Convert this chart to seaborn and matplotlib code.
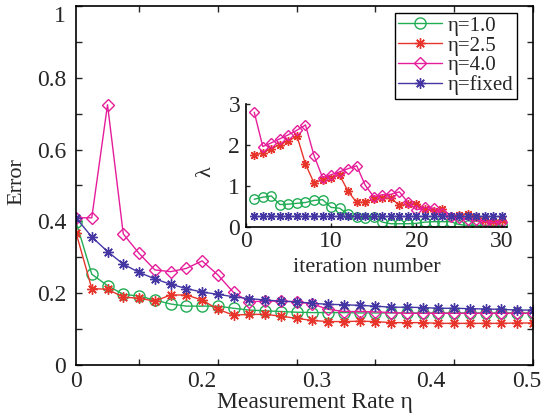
import matplotlib
matplotlib.use("Agg")
import matplotlib.pyplot as plt
import seaborn as sns

# ---- main panel: reconstruction error vs. measurement rate (30 samples) ----
sample_idx = list(range(1, 31))

err_eta_1_0 = [0.399, 0.253, 0.221, 0.197, 0.192, 0.181, 0.170, 0.164, 0.164, 0.164,
               0.158, 0.153, 0.151, 0.149, 0.147, 0.146, 0.146, 0.146, 0.145, 0.145,
               0.145, 0.145, 0.145, 0.145, 0.145, 0.145, 0.145, 0.145, 0.145, 0.145]
err_eta_2_5 = [0.369, 0.213, 0.211, 0.189, 0.186, 0.178, 0.195, 0.195, 0.181, 0.155,
               0.139, 0.141, 0.141, 0.136, 0.130, 0.124, 0.121, 0.121, 0.122, 0.121,
               0.118, 0.118, 0.118, 0.116, 0.116, 0.116, 0.116, 0.116, 0.117, 0.117]
err_eta_4_0 = [0.410, 0.410, 0.725, 0.365, 0.311, 0.265, 0.260, 0.269, 0.290, 0.251,
               0.202, 0.176, 0.178, 0.178, 0.176, 0.170, 0.155, 0.149, 0.149, 0.148,
               0.146, 0.144, 0.144, 0.144, 0.144, 0.144, 0.144, 0.144, 0.144, 0.144]
err_eta_fixed = [0.410, 0.357, 0.316, 0.281, 0.258, 0.240, 0.225, 0.213, 0.203, 0.197,
                 0.190, 0.185, 0.181, 0.178, 0.176, 0.172, 0.169, 0.168, 0.166, 0.164,
                 0.161, 0.161, 0.160, 0.158, 0.158, 0.157, 0.156, 0.155, 0.153, 0.153]

rate_tick_pos = [1, 9.0, 16.3, 23.5, 29.6]
rate_tick_labels = ["0", "0.2", "0.3", "0.4", "0.5"]

# ---- inset: lambda per iteration ----
iteration = list(range(1, 31))

lam_eta_1_0 = [0.68, 0.73, 0.76, 0.55, 0.56, 0.58, 0.60, 0.65, 0.67, 0.48,
               0.46, 0.31, 0.24, 0.21, 0.24, 0.12, 0.08, 0.08, 0.08, 0.09,
               0.12, 0.13, 0.13, 0.13, 0.06, 0.04, 0.04, 0.04, 0.04, 0.04]
lam_eta_2_5 = [1.76, 1.82, 1.92, 2.02, 2.11, 2.23, 1.54, 1.08, 1.16, 1.21,
               1.27, 0.87, 0.60, 0.61, 0.68, 0.70, 0.71, 0.53, 0.56, 0.57,
               0.43, 0.40, 0.44, 0.28, 0.30, 0.33, 0.25, 0.18, 0.15, 0.18]
lam_eta_4_0 = [2.81, 1.97, 2.06, 2.16, 2.26, 2.37, 2.50, 1.75, 1.21, 1.28,
               1.35, 1.43, 1.50, 1.02, 0.74, 0.79, 0.80, 0.86, 0.60, 0.42,
               0.48, 0.46, 0.35, 0.24, 0.22, 0.18, 0.16, 0.13, 0.10, 0.13]
lam_eta_fixed = [0.28, 0.28, 0.28, 0.28, 0.28, 0.28, 0.28, 0.28, 0.28, 0.28,
                 0.28, 0.28, 0.28, 0.28, 0.28, 0.28, 0.28, 0.28, 0.28, 0.28,
                 0.28, 0.28, 0.28, 0.28, 0.28, 0.28, 0.28, 0.28, 0.28, 0.28]

series_labels = ["η=1.0", "η=2.5", "η=4.0", "η=fixed"]
series_colors = ["#22ad55", "#e8352c", "#e61d9b", "#4537a3"]
asterisk = (8, 2, 0)
series_markers = ["o", asterisk, "D", asterisk]

sns.set_style("white")
plt.rcParams["font.family"] = ["Liberation Serif", "DejaVu Serif"]

fig = plt.figure(figsize=(5.46, 4.15), dpi=100)
ax = fig.add_axes([76 / 546, 1 - 365 / 415, (533 - 76) / 546, (365 - 6) / 415])

main_sizes = [8, 7.5, 5.8, 7.5]
main_series = [err_eta_1_0, err_eta_2_5, err_eta_4_0, err_eta_fixed]
for vals, lab, col, mk, ms in zip(main_series, series_labels, series_colors,
                                  series_markers, main_sizes):
    sns.lineplot(x=sample_idx, y=vals, ax=ax, color=col, marker=mk, markersize=ms,
                 markerfacecolor="none", markeredgecolor=col, markeredgewidth=1.0,
                 linewidth=1.0, label=lab, legend=False)

ax.set_xlim(1, 30)
ax.set_ylim(0, 1)
ax.set_xticks(rate_tick_pos)
ax.set_xticklabels(rate_tick_labels)
ax.set_xticks([5, 10, 15, 20, 25, 30], minor=True)
ax.set_yticks([0, 0.2, 0.4, 0.6, 0.8, 1.0])
ax.set_yticklabels(["0", "0.2", "0.4", "0.6", "0.8", "1"])
ax.set_yticks([0.1, 0.3, 0.5, 0.7, 0.9], minor=True)
ax.tick_params(axis="x", which="major", length=0, pad=4, labelsize=17)
ax.tick_params(axis="x", which="minor", direction="in", length=4, width=1,
               top=True, bottom=True)
ax.tick_params(axis="y", which="both", direction="in", length=4, width=1,
               left=True, right=True, labelsize=17, pad=7)
# keep the top label "1" inside the figure
ax.yaxis.get_major_ticks()[-1].label1.set_verticalalignment("top")
for s in ax.spines.values():
    s.set_color("black")
    s.set_linewidth(1.2)

ax.set_xlabel("Measurement Rate η", fontsize=17)
ax.xaxis.set_label_coords(0.523, -0.075)
ax.set_ylabel("Error", fontsize=16)
ax.yaxis.set_label_coords(-0.108, 0.51)

leg = ax.legend(loc="upper right", bbox_to_anchor=(517 / 546, 1 - 13 / 415),
                bbox_transform=fig.transFigure, fontsize=15, frameon=True,
                fancybox=False, framealpha=1, edgecolor="black",
                borderpad=0.15, labelspacing=0.01, handlelength=2.1,
                handletextpad=0.3, borderaxespad=0)
leg.get_frame().set_linewidth(1.0)

# ---- inset axes ----
axi = fig.add_axes([245.7 / 546, 1 - 227 / 415, (507 - 245.7) / 546, (227 - 104.5) / 415])
inset_sizes = [6.8, 6.5, 5.2, 6.5]
inset_series = [lam_eta_1_0, lam_eta_2_5, lam_eta_4_0, lam_eta_fixed]
for vals, col, mk, ms in zip(inset_series, series_colors, series_markers, inset_sizes):
    sns.lineplot(x=iteration, y=vals, ax=axi, color=col, marker=mk, markersize=ms,
                 markerfacecolor="none", markeredgecolor=col, markeredgewidth=1.0,
                 linewidth=1.0, legend=False)

axi.set_xlim(0, 30.6)
axi.set_ylim(0, 3)
axi.set_xticks([0, 10, 20, 30])
axi.set_yticks([0, 1, 2, 3])
axi.patch.set_alpha(0)
axi.spines["top"].set_visible(False)
axi.spines["right"].set_visible(False)
for k in ("left", "bottom"):
    axi.spines[k].set_color("black")
    axi.spines[k].set_linewidth(1.2)
axi.tick_params(axis="both", direction="in", length=3, width=1, labelsize=17,
                left=True, bottom=True)
axi.tick_params(axis="x", pad=3)
axi.tick_params(axis="y", pad=4)
axi.set_xlabel("iteration number", fontsize=16)
axi.xaxis.set_label_coords(0.464, -0.25)
axi.set_ylabel("λ", fontsize=16)
axi.yaxis.set_label_coords(-0.115, 0.45)

fig.savefig("out.png", dpi=100)
